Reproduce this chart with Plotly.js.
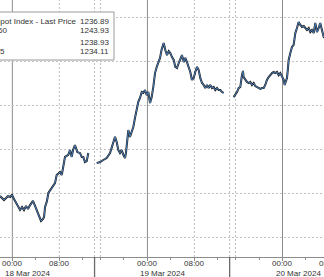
<!DOCTYPE html>
<html><head><meta charset="utf-8">
<script src="https://cdn.plot.ly/plotly-3.0.1.min.js"></script>
<style>html,body{margin:0;padding:0;background:#fff}#chart{width:324px;height:277px}</style>
</head><body><div id="chart"></div>
<script>
// Session 1 (17-18 Mar)
const s1Times = ['2024-03-17 21:54','2024-03-17 22:15','2024-03-17 22:35','2024-03-17 22:56','2024-03-17 23:16','2024-03-17 23:37','2024-03-17 23:57','2024-03-18 00:17','2024-03-18 00:38','2024-03-18 00:58','2024-03-18 01:19','2024-03-18 01:39','2024-03-18 01:59','2024-03-18 02:20','2024-03-18 02:40','2024-03-18 03:01','2024-03-18 03:21','2024-03-18 03:31','2024-03-18 03:52','2024-03-18 04:12','2024-03-18 04:33','2024-03-18 04:53','2024-03-18 05:14','2024-03-18 05:24','2024-03-18 05:34','2024-03-18 05:54','2024-03-18 06:08','2024-03-18 06:42','2024-03-18 07:16','2024-03-18 07:33','2024-03-18 08:07','2024-03-18 08:25','2024-03-18 08:41','2024-03-18 08:58','2024-03-18 09:32','2024-03-18 09:49','2024-03-18 10:07','2024-03-18 10:20','2024-03-18 10:40','2024-03-18 11:04','2024-03-18 11:31','2024-03-18 11:49','2024-03-18 12:05','2024-03-18 12:22','2024-03-18 12:40','2024-03-18 12:56'];
const s1Prices = [1235.86,1235.77,1235.68,1235.77,1235.86,1235.82,1235.91,1235.73,1235.55,1235.41,1235.23,1235.36,1235.23,1235.41,1235.27,1235.45,1235.59,1235.64,1235.41,1235.18,1234.95,1234.73,1234.82,1234.91,1235.36,1235.64,1236.00,1236.23,1236.45,1236.82,1236.95,1236.82,1237.18,1237.64,1237.73,1237.95,1237.64,1237.95,1238.18,1237.86,1237.82,1237.64,1237.64,1237.41,1237.45,1237.82];
// Session 2 (18-19 Mar)
const s2Times = ['2024-03-18 15:22','2024-03-18 15:56','2024-03-18 16:29','2024-03-18 17:04','2024-03-18 17:38','2024-03-18 17:55','2024-03-18 18:11','2024-03-18 18:29','2024-03-18 18:46','2024-03-18 19:03','2024-03-18 19:20','2024-03-18 19:37','2024-03-18 19:54','2024-03-18 20:11','2024-03-18 20:21','2024-03-18 20:34','2024-03-18 20:45','2024-03-18 21:02','2024-03-18 21:19','2024-03-18 21:36','2024-03-18 21:53','2024-03-18 22:10','2024-03-18 22:27','2024-03-18 22:44','2024-03-18 23:02','2024-03-18 23:18','2024-03-18 23:35','2024-03-18 23:53','2024-03-19 00:09','2024-03-19 00:27','2024-03-19 00:44','2024-03-19 01:00','2024-03-19 01:18','2024-03-19 01:35','2024-03-19 01:51','2024-03-19 02:09','2024-03-19 02:24','2024-03-19 02:46','2024-03-19 03:03','2024-03-19 03:20','2024-03-19 03:38','2024-03-19 03:54','2024-03-19 04:11','2024-03-19 04:29','2024-03-19 04:45','2024-03-19 05:02','2024-03-19 05:20','2024-03-19 05:36','2024-03-19 05:53','2024-03-19 06:11','2024-03-19 06:27','2024-03-19 06:44','2024-03-19 07:02','2024-03-19 07:18','2024-03-19 07:35','2024-03-19 07:53','2024-03-19 08:09','2024-03-19 08:27','2024-03-19 08:44','2024-03-19 09:00','2024-03-19 09:18','2024-03-19 09:35','2024-03-19 09:51','2024-03-19 10:09','2024-03-19 10:26','2024-03-19 10:42','2024-03-19 11:00','2024-03-19 11:17','2024-03-19 11:33','2024-03-19 11:51','2024-03-19 12:08','2024-03-19 12:25','2024-03-19 12:42','2024-03-19 12:59'];
const s2Prices = [1237.36,1237.41,1237.50,1237.59,1237.82,1238.05,1238.32,1238.55,1238.32,1237.95,1237.82,1237.95,1237.73,1237.59,1237.82,1238.41,1238.86,1238.55,1238.77,1239.00,1239.41,1239.77,1240.14,1240.32,1240.59,1240.55,1240.68,1240.45,1240.59,1240.09,1240.36,1240.82,1241.45,1241.73,1241.95,1242.14,1242.50,1242.82,1242.50,1242.27,1242.45,1242.36,1242.18,1242.05,1241.73,1241.68,1241.91,1242.05,1242.27,1241.95,1242.14,1241.95,1241.73,1241.50,1241.14,1241.23,1241.50,1241.73,1241.59,1241.23,1241.00,1240.91,1240.77,1240.91,1240.77,1240.91,1240.77,1240.82,1240.68,1240.77,1240.68,1240.68,1240.59,1240.55];
// Session 3 (19-20 Mar)
const s3Times = ['2024-03-19 15:41','2024-03-19 15:58','2024-03-19 16:15','2024-03-19 16:32','2024-03-19 16:49','2024-03-19 17:06','2024-03-19 17:16','2024-03-19 17:23','2024-03-19 17:40','2024-03-19 17:57','2024-03-19 18:15','2024-03-19 18:31','2024-03-19 18:48','2024-03-19 19:06','2024-03-19 19:22','2024-03-19 19:39','2024-03-19 19:57','2024-03-19 20:13','2024-03-19 20:30','2024-03-19 20:48','2024-03-19 21:04','2024-03-19 21:21','2024-03-19 21:39','2024-03-19 21:55','2024-03-19 22:13','2024-03-19 22:30','2024-03-19 22:46','2024-03-19 23:04','2024-03-19 23:21','2024-03-19 23:37','2024-03-19 23:55','2024-03-20 00:12','2024-03-20 00:22','2024-03-20 00:36','2024-03-20 00:46','2024-03-20 00:56','2024-03-20 01:03','2024-03-20 01:20','2024-03-20 01:37','2024-03-20 01:54','2024-03-20 02:11','2024-03-20 02:28','2024-03-20 02:45','2024-03-20 03:02','2024-03-20 03:19','2024-03-20 03:37','2024-03-20 03:53','2024-03-20 04:10','2024-03-20 04:28','2024-03-20 04:44','2024-03-20 05:01','2024-03-20 05:19','2024-03-20 05:35','2024-03-20 05:52','2024-03-20 06:10','2024-03-20 06:26','2024-03-20 06:43','2024-03-20 07:01','2024-03-20 07:24'];
const s3Prices = [1240.36,1240.45,1240.59,1240.77,1240.82,1241.36,1241.55,1241.27,1241.14,1241.05,1241.00,1241.05,1240.91,1241.00,1240.86,1240.82,1240.77,1240.73,1240.77,1240.77,1240.91,1241.14,1241.27,1241.36,1241.45,1241.50,1241.45,1241.50,1241.36,1241.45,1241.27,1241.14,1240.91,1241.05,1241.23,1241.68,1242.05,1242.36,1242.64,1242.73,1243.27,1243.50,1243.77,1243.64,1243.55,1243.59,1243.50,1243.41,1243.50,1243.32,1243.41,1243.27,1243.73,1243.32,1243.50,1243.73,1243.41,1243.09,1243.05];

const sessions = [[s1Times, s1Prices], [s2Times, s2Prices], [s3Times, s3Prices]];
const midnights = ['2024-03-18 00:00','2024-03-19 00:00','2024-03-20 00:00'];
const morningLines = ['2024-03-18 08:00','2024-03-19 08:00'];
const sessionBreaks = ['2024-03-18 15:00','2024-03-18 16:00','2024-03-19 15:00','2024-03-19 16:00'];
const sessionStarts = ['2024-03-18 15:00','2024-03-19 15:00'];
const tickVals = ['2024-03-18 00:00','2024-03-18 08:00','2024-03-19 00:00','2024-03-19 08:00','2024-03-20 00:00'];
const tickText = ['00:00','08:00','00:00','08:00','00:00'];
const minorTicks = ['2024-03-18 04:00','2024-03-18 12:00','2024-03-18 16:00','2024-03-18 20:00','2024-03-19 04:00','2024-03-19 12:00','2024-03-19 16:00','2024-03-19 20:00','2024-03-20 04:00'];
const dateLabels = ['18 Mar 2024','19 Mar 2024','20 Mar 2024'];
const legendNames = ['Bloomberg Dollar Spot Index - Last Price','60','','5'];
const legendValues = ['1236.89','1243.93','1238.93','1234.11'];

const FONT = 'Liberation Sans, Arial, sans-serif';
const TXT = '#333333';
const traces = [];
sessions.forEach(([t, p]) => {
  traces.push({x: t, y: p, type: 'scatter', mode: 'lines', line: {color: '#1a1a1a', width: 2}, hoverinfo: 'skip'});
});
sessions.forEach(([t, p]) => {
  traces.push({x: t, y: p, type: 'scatter', mode: 'lines', line: {color: '#4f86c6', width: 0.9}, hoverinfo: 'skip'});
});

const H = 257;
const py = v => (H - v) / H;
const shapes = [];
midnights.forEach(d => shapes.push({type: 'line', xref: 'x', yref: 'paper', x0: d, x1: d, y0: 0, y1: 1, layer: 'below', line: {color: '#8c8c8c', width: 1}}));
morningLines.concat(sessionBreaks).forEach(d => shapes.push({type: 'line', xref: 'x', yref: 'paper', x0: d, x1: d, y0: 0, y1: 1, layer: 'below', line: {color: '#bdbdbd', width: 1, dash: '2px,2px'}}));
sessionStarts.forEach(d => shapes.push({type: 'line', xref: 'x', yref: 'paper', x0: d, x1: d, y0: 0, y1: -0.09, layer: 'above', line: {color: '#6a6a6a', width: 1.3}}));
// legend box
shapes.push({type: 'rect', xref: 'paper', yref: 'paper', x0: -2/324, x1: 114/324, y0: py(60), y1: py(12), layer: 'above', fillcolor: '#ffffff', line: {color: '#9a9a9a', width: 1}});

const annotations = [];
const rowY = [21.5, 30.5, 42.5, 52];
const nameRight = [79, 9, 0, 7];
legendNames.forEach((n, i) => {
  if (n) annotations.push({xref: 'paper', yref: 'paper', x: nameRight[i] / 324, y: py(rowY[i]), xanchor: 'right', yanchor: 'middle', showarrow: false, text: n, font: {family: FONT, size: 8, color: TXT}});
  annotations.push({xref: 'paper', yref: 'paper', x: 111/324, y: py(rowY[i]), xanchor: 'right', yanchor: 'middle', showarrow: false, text: legendValues[i], font: {family: FONT, size: 8, color: TXT}});
});
// time tick labels
tickVals.forEach((d, i) => annotations.push({xref: 'x', yref: 'paper', x: d, y: py(263.5), xanchor: 'center', yanchor: 'middle', showarrow: false, text: tickText[i], font: {family: FONT, size: 8, color: TXT}}));
annotations.push({xref: 'paper', yref: 'paper', x: 329.5/324, y: py(263.5), xanchor: 'center', yanchor: 'middle', showarrow: false, text: '08:00', font: {family: FONT, size: 8, color: TXT}});
// date labels
midnights.forEach((d, i) => annotations.push({xref: 'x', yref: 'paper', x: d, y: py(273), xanchor: 'left', yanchor: 'middle', xshift: -9, showarrow: false, text: dateLabels[i], font: {family: FONT, size: 8, color: TXT}}));

const layout = {
  width: 324, height: 277,
  margin: {l: 0, r: 0, t: 0, b: 20, pad: 0},
  paper_bgcolor: '#ffffff', plot_bgcolor: '#ffffff',
  showlegend: false,
  xaxis: {
    type: 'date',
    range: ['2024-03-17 21:54', '2024-03-20 07:04'],
    rangebreaks: [{pattern: 'hour', bounds: [14, 15]}],
    showgrid: false, zeroline: false,
    showline: true, linecolor: '#8c8c8c', linewidth: 1,
    tickmode: 'array', tickvals: tickVals, showticklabels: false,
    ticks: 'outside', ticklen: 3, tickcolor: '#8c8c8c',
    minor: {tickmode: 'array', tickvals: minorTicks, ticks: 'outside', ticklen: 2, tickcolor: '#8c8c8c', showgrid: false}
  },
  yaxis: {
    range: [1233.091, 1244.773],
    showticklabels: false, ticks: '',
    tick0: 1234, dtick: 2,
    showgrid: true, gridcolor: '#c4c4c4', griddash: '2px,2px', gridwidth: 1,
    zeroline: false, showline: false
  },
  shapes: shapes,
  annotations: annotations
};
Plotly.newPlot('chart', traces, layout, {staticPlot: true, displayModeBar: false});
</script></body></html>
